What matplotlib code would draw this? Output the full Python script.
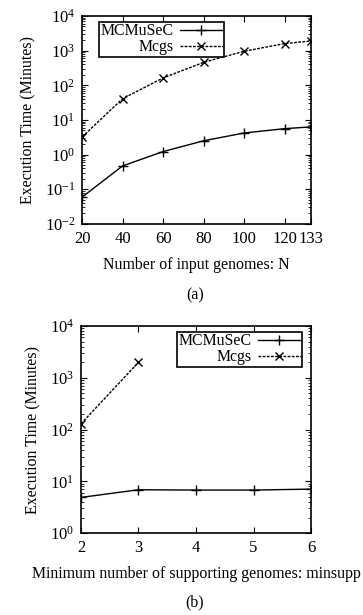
import matplotlib
matplotlib.use("Agg")
import matplotlib.pyplot as plt
from matplotlib.ticker import LogLocator, NullFormatter

plt.rcParams['font.family'] = ['Liberation Serif', 'DejaVu Serif']
plt.rcParams['mathtext.fontset'] = 'custom'
plt.rcParams['mathtext.rm'] = 'Liberation Serif'
plt.rcParams['font.size'] = 11.4

# panel (a): varying number of input genomes
n_genomes = [20, 40, 60, 80, 100, 120, 133]
mcmusec_a = [0.059, 0.47, 1.22, 2.5, 4.2, 5.6, 6.3]
mcgs_a = [3.2, 41, 163, 460, 960, 1600, 1900]

# panel (b): varying minsupp
minsupp = [2, 3, 4, 5, 6]
mcmusec_b = [4.9, 6.9, 6.8, 6.8, 7.1]
minsupp_mcgs = [2, 3]
mcgs_b = [129, 1990]

fig = plt.figure(figsize=(3.63, 6.15), dpi=100)
ax1 = fig.add_axes([0.226, 0.636, 0.631, 0.338])
ax2 = fig.add_axes([0.223, 0.133, 0.634, 0.337])


def style(ax):
    ax.set_yscale('log')
    ax.yaxis.set_major_locator(LogLocator(base=10, numticks=10))
    ax.yaxis.set_minor_locator(LogLocator(base=10, subs=range(2, 10), numticks=20))
    ax.yaxis.set_minor_formatter(NullFormatter())
    ax.tick_params(which='both', direction='in', top=True, right=True, labelsize=12)
    ax.tick_params(which='major', length=4, width=0.8, pad=5)
    ax.tick_params(which='minor', length=2, width=0.6)
    for s in ax.spines.values():
        s.set_linewidth(1.2)
    ax.set_ylabel('Execution Time (Minutes)', labelpad=6)


def add_legend(ax, **kw):
    leg = ax.legend(markerfirst=False, numpoints=1, handlelength=2.7, fancybox=False,
                    edgecolor='black', framealpha=1, borderpad=0.1, labelspacing=0.0,
                    handletextpad=0.4, borderaxespad=0, fontsize=11.4, **kw)
    leg.get_frame().set_linewidth(1.2)
    return leg


ax1.plot(n_genomes, mcmusec_a, color='black', lw=1.0, marker='+', ms=7, mew=1.0, label='MCMuSeC')
ax1.plot(n_genomes, mcgs_a, color='black', lw=1.0, ls=(0, (2, 1)), marker='x', ms=6, mew=1.0, label='Mcgs')
style(ax1)
ax1.set_xlim(20, 133)
ax1.set_ylim(1e-2, 1e4)
ax1.set_xticks(n_genomes)
ax1.set_xlabel('Number of input genomes: N', labelpad=7)
add_legend(ax1, loc='upper left', bbox_to_anchor=(0.074, 0.972))
fig.text(0.537, 0.52, '(a)', ha='center', va='center')

ax2.plot(minsupp, mcmusec_b, color='black', lw=1.0, marker='+', ms=7, mew=1.0, label='MCMuSeC')
ax2.plot(minsupp_mcgs, mcgs_b, color='black', lw=1.0, ls=(0, (2, 1)), marker='x', ms=6, mew=1.0, label='Mcgs')
style(ax2)
ax2.set_xlim(2, 6)
ax2.set_ylim(1, 1e4)
ax2.set_xticks(minsupp)
ax2.set_xlabel('Minimum number of supporting genomes: minsupp', labelpad=7)
add_legend(ax2, loc='upper right', bbox_to_anchor=(0.962, 0.972))
fig.text(0.537, 0.02, '(b)', ha='center', va='center')

fig.savefig('out.png', dpi=100)
